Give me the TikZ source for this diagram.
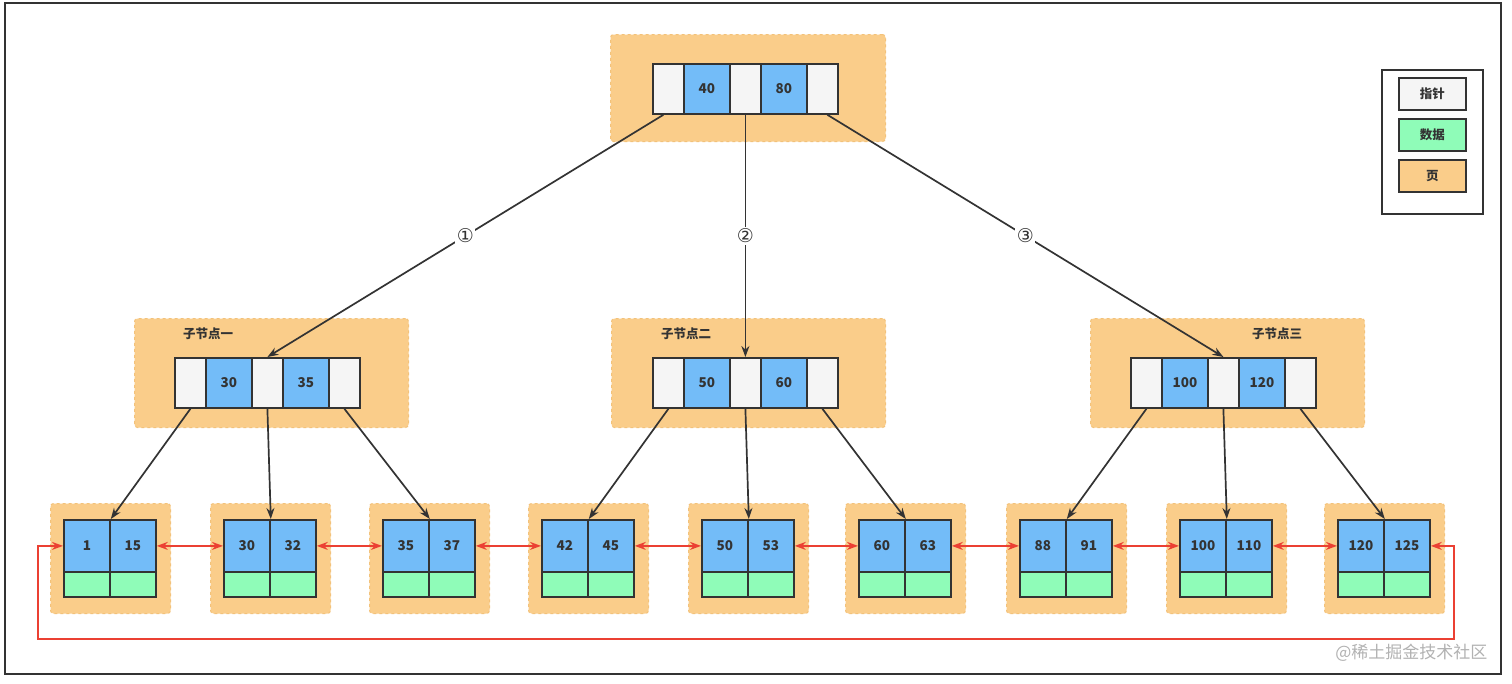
\documentclass[tikz,border=0pt]{standalone}
\usepackage{fontspec}
\setmainfont{Noto Sans CJK SC}
\newfontfamily\circfont{DejaVu Sans}
\usetikzlibrary{arrows.meta}
\definecolor{ptrc}{HTML}{F5F5F5}
\definecolor{keyc}{HTML}{73BCF8}
\definecolor{datac}{HTML}{8FFCB8}
\definecolor{pagec}{HTML}{FACD8A}
\definecolor{pageb}{HTML}{F3C27A}
\definecolor{linec}{HTML}{333333}
\definecolor{redc}{HTML}{EB4033}
\tikzset{
  cell/.style={draw=linec, line width=1.8pt, inner sep=0pt, anchor=north west,
    font=\fontsize{13.5}{15}\selectfont\bfseries, text=linec},
  ptrcell/.style={cell, fill=ptrc, minimum width=31pt, minimum height=50pt},
  keycell/.style={cell, fill=keyc, minimum width=46pt, minimum height=50pt},
  leafkey/.style={cell, fill=keyc, minimum width=46pt, minimum height=52pt},
  datacell/.style={cell, fill=datac, minimum width=46pt, minimum height=25pt},
  pagebox/.style={fill=pagec, draw=pageb, dashed, line width=1pt, rounded corners=3pt,
    inner sep=0pt, anchor=north west},
  arr/.style={draw=linec, line width=1.7pt, -{Stealth[length=11pt,width=8pt]}},
  redarr/.style={draw=redc, line width=1.5pt, {Stealth[length=11pt,width=8pt]}-{Stealth[length=11pt,width=8pt]}},
  circ/.style={fill=white, inner sep=1.5pt, font=\circfont\fontsize{19}{21}\selectfont, text=linec},
  lbl/.style={font=\fontsize{12.5}{14}\selectfont\bfseries, text=linec},
  legbox/.style={draw=linec, line width=1.8pt, inner sep=0pt, anchor=north west,
    minimum width=67pt, minimum height=32pt, font=\fontsize{12.5}{14}\selectfont\bfseries, text=linec},
}
\newcommand\bnode[5]{%
  \node[ptrcell] (#1p1) at (#2,#3) {};
  \node[keycell] (#1k1) at ({#2+31},#3) {#4};
  \node[ptrcell] (#1p2) at ({#2+77},#3) {};
  \node[keycell] (#1k2) at ({#2+108},#3) {#5};
  \node[ptrcell] (#1p3) at ({#2+154},#3) {};
}
\newcommand\leafnode[4]{%
  \node[pagebox, minimum width=120pt, minimum height=110pt] (#1pg) at ({#2-13},503) {};
  \node[leafkey] (#1k1) at (#2,519) {#3};
  \node[leafkey] (#1k2) at ({#2+46},519) {#4};
  \node[datacell] (#1d1) at (#2,571) {};
  \node[datacell] (#1d2) at ({#2+46},571) {};
}
\begin{document}
\begin{tikzpicture}[x=1pt,y=-1pt]
\fill[white] (0,0) rectangle (1512,683);
\useasboundingbox (0,0) rectangle (1512,683);
\draw[linec, line width=2pt] (5,3) rectangle (1501,674);

% pages
\node[pagebox, minimum width=275pt, minimum height=107pt] (rootpg) at (610,34) {};
\node[pagebox, minimum width=274pt, minimum height=109pt] (c1pg) at (134,318) {};
\node[pagebox, minimum width=274pt, minimum height=109pt] (c2pg) at (611,318) {};
\node[pagebox, minimum width=274pt, minimum height=109pt] (c3pg) at (1090,318) {};

\node[lbl] (c1lbl) at (208,334) {子节点一};
\node[lbl] (c2lbl) at (686,334) {子节点二};
\node[lbl] (c3lbl) at (1277,334) {子节点三};

\bnode{r}{652}{63}{40}{80}
\bnode{ca}{174}{357}{30}{35}
\bnode{cb}{652}{357}{50}{60}
\bnode{cc}{1130}{357}{100}{120}

\leafnode{la}{63}{1}{15}
\leafnode{lb}{223}{30}{32}
\leafnode{lc}{382}{35}{37}
\leafnode{ld}{541}{42}{45}
\leafnode{le}{701}{50}{53}
\leafnode{lf}{858}{60}{63}
\leafnode{lg}{1019}{88}{91}
\leafnode{lh}{1179}{100}{110}
\leafnode{li}{1337}{120}{125}

% root -> children
\draw[arr] ([xshift=-5pt]rp1.south) -- node[circ] (n1) {①} (cap2.north);
\draw[arr] (rp2.south) -- node[circ] (n2) {②} (cbp2.north);
\draw[arr] ([xshift=5pt]rp3.south) -- node[circ] (n3) {③} (ccp2.north);

% children -> leaves
\draw[arr] (cap1.south) -- (lak1.north east);
\draw[arr] (cap2.south) -- (lbk1.north east);
\draw[arr] (cap3.south) -- (lck1.north east);
\draw[arr] (cbp1.south) -- (ldk1.north east);
\draw[arr] (cbp2.south) -- (lek1.north east);
\draw[arr] (cbp3.south) -- (lfk1.north east);
\draw[arr] (ccp1.south) -- (lgk1.north east);
\draw[arr] (ccp2.south) -- (lhk1.north east);
\draw[arr] (ccp3.south) -- (lik1.north east);

% leaf links
\draw[redarr] (lak2.east) -- (lbk1.west);
\draw[redarr] (lbk2.east) -- (lck1.west);
\draw[redarr] (lck2.east) -- (ldk1.west);
\draw[redarr] (ldk2.east) -- (lek1.west);
\draw[redarr] (lek2.east) -- (lfk1.west);
\draw[redarr] (lfk2.east) -- (lgk1.west);
\draw[redarr] (lgk2.east) -- (lhk1.west);
\draw[redarr] (lhk2.east) -- (lik1.west);
\coordinate (loopbr) at (1454,639);
\coordinate (loopbl) at (38,639);
\draw[redarr] (lik2.east) -| (loopbr) -- (loopbl) |- (lak1.west);

% legend
\node[draw=linec, line width=1.8pt, anchor=north west, inner sep=0pt,
  minimum width=101pt, minimum height=144pt] (legend) at (1381,69) {};
\node[legbox, fill=ptrc] (legptr) at (1398,77) {指针};
\node[legbox, fill=datac] (legdata) at (1398,118) {数据};
\node[legbox, fill=pagec] (legpage) at (1398,159) {页};

% watermark
\node[text=black!30, font=\fontsize{17}{19}\selectfont, anchor=east] (wm) at (1491,653) {@稀土掘金技术社区};
\end{tikzpicture}
\end{document}
